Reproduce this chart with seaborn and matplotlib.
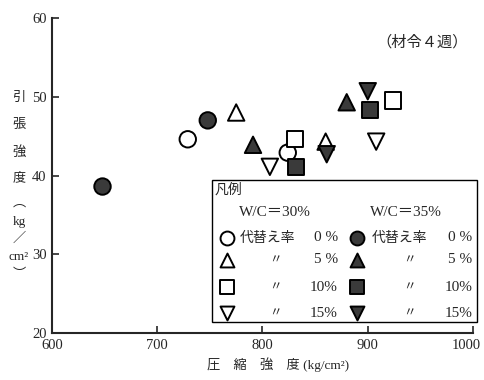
import pandas as pd
import matplotlib.pyplot as plt
import matplotlib.transforms as mtrans
import seaborn as sns

# データ (圧縮強度 kg/cm2, 引張強度 kg/cm2)
wc30_rate0_x = [729, 824]
wc30_rate0_y = [44.6, 42.9]
wc30_rate5_x = [775, 860]
wc30_rate5_y = [48.0, 44.3]
wc30_rate10_x = [831, 924]
wc30_rate10_y = [44.6, 49.5]
wc30_rate15_x = [807, 908]
wc30_rate15_y = [41.1, 44.3]

wc35_rate0_x = [648, 748]
wc35_rate0_y = [38.6, 47.0]
wc35_rate5_x = [791, 880]
wc35_rate5_y = [43.9, 49.3]
wc35_rate10_x = [832, 902]
wc35_rate10_y = [41.1, 48.3]
wc35_rate15_x = [861, 900]
wc35_rate15_y = [42.7, 50.7]

x_ticks = [600, 700, 800, 900, 1000]
y_ticks = [20, 30, 40, 50, 60]

rows = []
for wc, rate, xs, ys in [
    ('30', '0', wc30_rate0_x, wc30_rate0_y),
    ('30', '5', wc30_rate5_x, wc30_rate5_y),
    ('30', '10', wc30_rate10_x, wc30_rate10_y),
    ('30', '15', wc30_rate15_x, wc30_rate15_y),
    ('35', '0', wc35_rate0_x, wc35_rate0_y),
    ('35', '5', wc35_rate5_x, wc35_rate5_y),
    ('35', '10', wc35_rate10_x, wc35_rate10_y),
    ('35', '15', wc35_rate15_x, wc35_rate15_y),
]:
    for x, y in zip(xs, ys):
        rows.append({'x': x, 'y': y, 'wc': wc, 'rate': rate})
df = pd.DataFrame(rows)

sns.set_style('ticks')
plt.rcParams['font.family'] = ['Liberation Serif', 'Noto Sans CJK JP', 'DejaVu Sans']
jp = ['Noto Sans CJK JP', 'DejaVu Sans']

markers = {'0': 'o', '5': '^', '10': 's', '15': 'v'}
palette = {'30': 'white', '35': '#3a3a3a'}
dark = '#3a3a3a'

fig = plt.figure(figsize=(4.84, 3.80), dpi=100)
ax = fig.add_axes([0.1074, 0.1237, 0.8699, 0.8289])

sns.scatterplot(data=df, x='x', y='y', hue='wc', style='rate', markers=markers,
                palette=palette, edgecolor='black', linewidth=1.4, s=140,
                legend=False, ax=ax, zorder=3)

ax.set_xlim(600, 1000)
ax.set_ylim(20, 60)
ax.set_xticks(x_ticks)
ax.set_yticks(y_ticks)
ax.tick_params(direction='in', length=5, width=1.2, labelsize=10.5, pad=4)
for side in ['top', 'right']:
    ax.spines[side].set_visible(False)
for side in ['left', 'bottom']:
    ax.spines[side].set_linewidth(1.5)
ax.set_xlabel('')
ax.set_ylabel('')

# 1000 のラベルを少し左へ
last = ax.get_xticklabels()[-1]
last.set_transform(last.get_transform() + mtrans.ScaledTranslation(-7 / 100, 0, fig.dpi_scale_trans))

# 軸ラベル
fig.text(0.575, 0.04, '圧　縮　強　度 (kg/cm²)', ha='center', va='center', fontsize=9.5)
ylab = [('引', 98), ('張', 125), ('強', 152), ('度', 178), ('︵', 203),
        ('kg', 222), ('／', 239), ('cm²', 257), ('︶', 275)]
for s, py in ylab:
    fig.text(19 / 484, 1 - py / 380, s, ha='center', va='center', fontsize=9.5)

ax.text(0.988, 0.924, '（材令４週）', transform=ax.transAxes, ha='right', va='center',
        fontsize=11, family=jp)

# 凡例
box = plt.Rectangle((0.38, 0.035), 0.63, 0.451, transform=ax.transAxes,
                    facecolor='white', edgecolor='black', linewidth=1.0,
                    clip_on=False, zorder=4)
ax.add_patch(box)
ax.text(0.387, 0.454, '凡例', transform=ax.transAxes, ha='left', va='center',
        fontsize=10, family=jp, zorder=5)
ax.text(0.530, 0.381, 'W/C＝30%', transform=ax.transAxes, ha='center', va='center',
        fontsize=11, zorder=5)
ax.text(0.841, 0.381, 'W/C＝35%', transform=ax.transAxes, ha='center', va='center',
        fontsize=11, zorder=5)

row_y = [0.302, 0.232, 0.146, 0.063]
rates = ['0', '5', '10', '15']
pct = ['0 %', '5 %', '10%', '15%']
for i, (ry, r) in enumerate(zip(row_y, rates)):
    for mx, tx0, ditto_x, tx1, fc in [(0.416, 0.447, 0.530, 0.679, 'white'),
                                       (0.724, 0.760, 0.850, 0.998, dark)]:
        ax.scatter([mx], [ry], marker=markers[r], s=100, facecolor=fc,
                   edgecolor='black', linewidth=1.4, transform=ax.transAxes,
                   clip_on=False, zorder=5)
        if i == 0:
            ax.text(tx0, ry, '代替え率', transform=ax.transAxes, ha='left',
                    va='center', fontsize=10, family=jp, zorder=5)
        else:
            ax.text(ditto_x, ry, '〃', transform=ax.transAxes, ha='center',
                    va='center', fontsize=9, family=jp, zorder=5)
        ax.text(tx1, ry, pct[i], transform=ax.transAxes, ha='right',
                va='center', fontsize=11, zorder=5)

plt.savefig('out.png', dpi=100)
